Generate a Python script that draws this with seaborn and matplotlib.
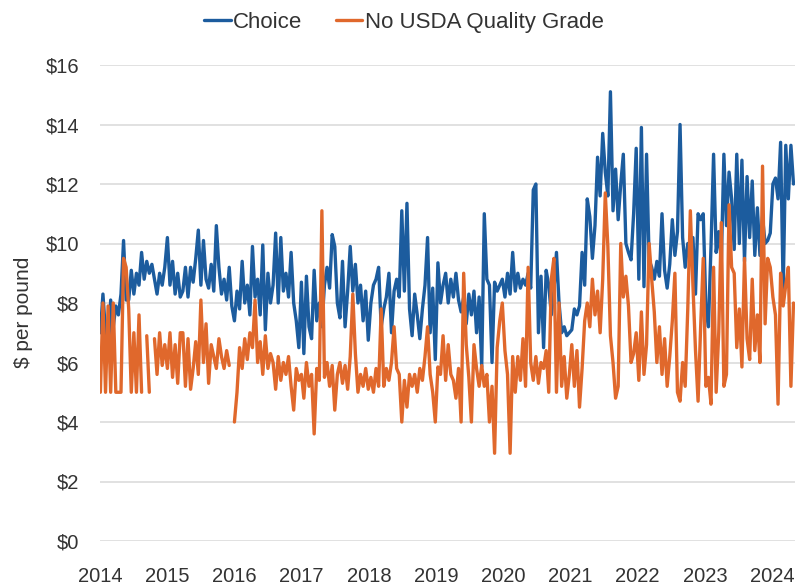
import numpy as np
import pandas as pd
import matplotlib
matplotlib.use("Agg")
import matplotlib.pyplot as plt
import seaborn as sns

nan = np.nan

# biweekly retail prices, $ per pound
choice_2014 = [7.0, 8.3, 7.0, 6.1, 8.1, 7.2, 7.9, 7.6, 8.3, 10.1, 8.1, 8.1, 9.1, 8.3, 9.0, 8.6, 9.7, 8.8, 9.4, 9.0, 9.3, 8.8, 8.3, 9.0, 8.6, 9.2]
choice_2015 = [10.2, 8.6, 9.4, 8.3, 9.0, 8.2, 8.4, 9.2, 8.2, 9.2, 8.7, 9.5, 10.45, 8.6, 10.1, 8.8, 8.5, 9.3, 8.4, 10.6, 9.2, 8.3, 8.8, 8.1, 9.2, 7.9]
choice_2016 = [7.4, 8.4, 7.8, 9.4, 8.0, 8.6, 7.6, 9.9, 8.2, 8.8, 7.6, 9.95, 7.1, 9.0, 8.0, 8.6, 10.35, 8.0, 10.2, 8.4, 9.0, 8.2, 9.7, 8.0, 7.4, 6.5]
choice_2017 = [8.7, 6.3, 8.9, 7.2, 6.8, 9.1, 7.4, 8.0, 7.2, 8.6, 9.2, 8.5, 10.3, 9.9, 8.0, 7.5, 9.4, 7.2, 8.4, 9.9, 8.4, 9.3, 8.0, 8.6, 7.4, 8.4]
choice_2018 = [6.75, 8.0, 8.6, 8.8, 9.2, 7.2, 7.8, 8.2, 9.0, 7.0, 8.4, 8.8, 8.2, 11.1, 8.4, 11.35, 7.8, 6.9, 8.3, 7.6, 6.8, 7.8, 8.6, 10.2, 7.0, 8.5]
choice_2019 = [6.1, 9.35, 8.0, 8.6, 9.0, 8.0, 8.8, 8.2, 9.0, 8.1, 7.7, 8.2, 7.3, 8.3, 7.6, 8.4, 7.0, 8.2, 5.85, 11.0, 8.8, 8.6, 6.0, 8.7, 8.4, 8.6]
choice_2020 = [8.8, 8.2, 9.0, 8.3, 9.7, 8.4, 9.0, 8.5, 8.8, 8.6, 9.0, 8.5, 11.8, 12.0, 7.0, 8.9, 6.5, 9.1, 8.6, 7.6, 8.4, 9.7, 8.0, 7.0, 7.2, 6.9]
choice_2021 = [7.0, 7.1, 7.8, 7.6, 7.9, 9.7, 8.6, 11.5, 10.9, 9.5, 10.6, 12.9, 11.6, 13.7, 12.4, 11.6, 15.1, 11.1, 12.5, 10.8, 12.0, 13.0, 10.0, 9.7, 9.45, 11.0]
choice_2022 = [13.2, 8.8, 13.9, 8.55, 13.0, 9.45, 9.2, 8.8, 9.4, 8.9, 11.0, 9.1, 8.5, 9.3, 10.8, 9.6, 10.4, 14.0, 10.2, 9.2, 10.0, 9.45, 10.2, 8.3, 11.0, 10.8]
choice_2023 = [11.0, 7.9, 7.2, 9.9, 13.0, 9.7, 10.4, 9.4, 13.0, 10.6, 12.4, 11.5, 9.8, 13.0, 10.0, 12.8, 9.4, 12.25, 10.2, 12.1, 9.6, 11.2, 9.6, 10.9, 10.0, 10.1]
choice_2024 = [10.35, 12.0, 12.2, 11.5, 13.4, 8.4, 13.3, 11.5, 13.3, 12.0]

nograde_2014 = [5.0, 8.0, 5.0, 7.9, 5.0, 8.0, 5.0, 5.0, 5.0, 9.5, 9.2, 7.8, 5.0, 7.0, 5.0, 7.6, 5.0, nan, 6.9, 5.0, nan, 6.8, 5.6, 7.0, 5.9, 6.6]
nograde_2015 = [5.8, 7.0, 5.5, 6.6, 5.3, 7.0, 7.0, 5.2, 6.8, 5.1, 5.8, 6.7, 5.6, 8.1, 6.0, 7.3, 5.3, 6.6, 6.2, 5.8, 6.8, 6.2, 5.8, 6.4, 5.9, nan]
nograde_2016 = [4.0, 5.0, 6.5, 5.8, 6.8, 6.1, 7.0, 6.5, 8.1, 6.0, 6.7, 5.6, 6.9, 5.8, 6.3, 6.0, 5.1, 6.2, 5.4, 6.0, 5.6, 6.2, 5.2, 4.4, 5.8, 5.4]
nograde_2017 = [5.6, 4.8, 6.0, 5.2, 5.6, 3.6, 5.8, 5.4, 11.1, 5.5, 6.0, 5.2, 5.9, 4.4, 5.6, 6.0, 5.3, 5.9, 5.1, 6.2, 8.3, 6.3, 5.0, 5.6, 5.2, 5.8]
nograde_2018 = [5.1, 5.5, 5.0, 5.8, 5.2, 7.8, 5.2, 5.8, 5.4, 6.0, 7.2, 5.8, 5.6, 4.0, 5.4, 4.5, 5.6, 5.2, 5.6, 5.0, 5.8, 5.4, 6.2, 7.2, 5.6, 5.0]
nograde_2019 = [4.0, 5.85, 5.6, 6.9, 5.4, 6.6, 5.6, 5.4, 4.8, 5.8, 4.0, 9.0, 6.6, 5.5, 4.0, 6.6, 5.8, 5.2, 5.9, 5.2, 5.6, 4.0, 5.2, 2.95, 6.5, 7.4]
nograde_2020 = [8.0, 6.4, 5.6, 2.95, 6.2, 5.0, 6.2, 5.4, 6.8, 5.2, 9.2, 6.0, 5.4, 6.2, 5.3, 6.0, 5.8, 6.4, 5.0, 8.8, 9.5, 5.0, 8.0, 5.2, 6.2, 4.8]
nograde_2021 = [5.6, 6.6, 5.2, 6.4, 4.5, 5.8, 7.4, 8.0, 7.2, 8.8, 7.6, 8.4, 7.0, 8.8, 11.7, 9.9, 6.9, 6.0, 4.8, 5.2, 10.0, 8.2, 8.9, 7.9, 6.0, 6.3]
nograde_2022 = [7.0, 5.4, 7.7, 5.6, 6.6, 10.0, 8.8, 7.7, 6.0, 7.2, 5.6, 6.8, 5.2, 6.2, 7.4, 9.0, 5.0, 4.7, 6.0, 5.2, 7.8, 11.1, 8.6, 6.4, 4.7, 7.2]
nograde_2023 = [9.5, 5.2, 5.5, 4.6, 9.2, 5.0, 7.0, 10.7, 5.2, 5.6, 11.3, 9.2, 9.0, 6.5, 7.8, 5.85, 9.5, 6.8, 6.1, 8.8, 6.4, 7.6, 6.0, 12.6, 7.3, 9.5]
nograde_2024 = [9.2, 8.2, 7.6, 4.6, 9.0, 7.9, 8.6, 9.2, 5.2, 8.0]

choice = sum([choice_2014, choice_2015, choice_2016, choice_2017, choice_2018, choice_2019,
              choice_2020, choice_2021, choice_2022, choice_2023, choice_2024], [])
nograde = sum([nograde_2014, nograde_2015, nograde_2016, nograde_2017, nograde_2018, nograde_2019,
               nograde_2020, nograde_2021, nograde_2022, nograde_2023, nograde_2024], [])

series_names = ["Choice", "No USDA Quality Grade"]
colors = ["#1c5c9e", "#e0682c"]
year_ticks = list(range(2014, 2025))
price_ticks = [0, 2, 4, 6, 8, 10, 12, 14, 16]

dates = pd.date_range("2014-01-03", periods=len(choice), freq="14D")
year_frac = dates.year + (dates.dayofyear - 1) / 365.25

frames = []
for name, values in zip(series_names, [choice, nograde]):
    part = pd.DataFrame({"year": year_frac, "price": values, "grade": name})
    # weeks without a price break the line into separate pieces
    part["segment"] = part["price"].isna().cumsum()
    frames.append(part.dropna())
df = pd.concat(frames, ignore_index=True)

sns.set_theme(style="white")
plt.rcParams["font.family"] = ["Liberation Sans", "DejaVu Sans"]
text_color = "#333333"

fig = plt.figure(figsize=(7.95, 5.87), dpi=100)
ax = fig.add_axes([100 / 795, 46 / 587, 695 / 795, 476 / 587])

sns.lineplot(data=df, x="year", y="price", hue="grade", hue_order=series_names,
             palette=colors, units="segment", estimator=None, sort=False,
             linewidth=2.4, ax=ax)

ax.set_xlim(2014, 2024.34)
ax.set_ylim(0, 16)
ax.set_xticks(year_ticks)
ax.set_xticklabels([str(y) for y in year_ticks])
ax.set_yticks(price_ticks)
ax.set_yticklabels([f"${p}" for p in price_ticks])
ax.grid(axis="y", color="#dcdcdc", linewidth=1.2)
ax.grid(axis="x", visible=False)
for s in ax.spines.values():
    s.set_visible(False)
ax.tick_params(axis="both", length=0, labelsize=14.5, colors=text_color)
ax.tick_params(axis="y", pad=15)
ax.tick_params(axis="x", pad=19)
ax.set_xlabel("")
ax.set_ylabel("$ per pound", fontsize=15, color=text_color)
ax.yaxis.set_label_coords(-0.097, 0.48)

handles, labels = ax.get_legend_handles_labels()
ax.legend_.remove()
fig.legend(handles, labels, loc="center", bbox_to_anchor=(0.508, 0.962), ncol=2,
           frameon=False, fontsize=16, handlelength=1.2, handletextpad=0.1,
           columnspacing=1.5, labelcolor=text_color)

fig.savefig("out.png", dpi=100)
